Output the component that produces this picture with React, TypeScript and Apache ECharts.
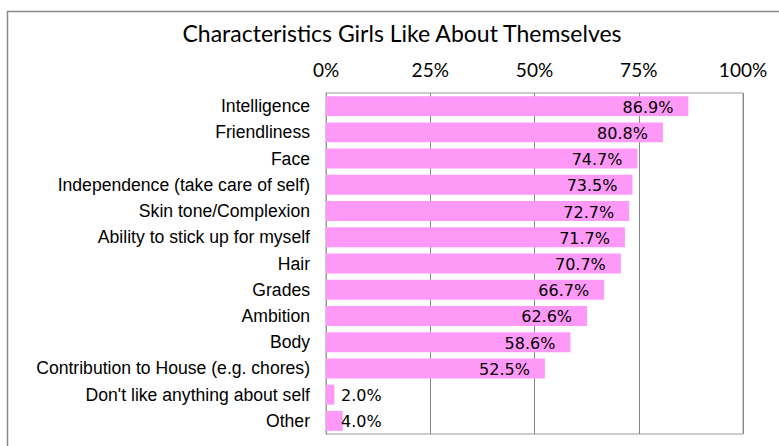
import React, { useEffect, useRef } from "react";
import * as echarts from "echarts";

const categories = [
  "Intelligence",
  "Friendliness",
  "Face",
  "Independence (take care of self)",
  "Skin tone/Complexion",
  "Ability to stick up for myself",
  "Hair",
  "Grades",
  "Ambition",
  "Body",
  "Contribution to House (e.g. chores)",
  "Don't like anything about self",
  "Other",
];
const values = [86.9, 80.8, 74.7, 73.5, 72.7, 71.7, 70.7, 66.7, 62.6, 58.6, 52.5, 2.0, 4.0];
const xTicks = [0, 25, 50, 75, 100];

export default function App() {
  const ref = useRef<HTMLDivElement>(null);
  useEffect(() => {
    if (!ref.current) return;
    const chart = echarts.init(ref.current, null, { renderer: "svg" });
    chart.setOption({
      animation: false,
      backgroundColor: "#fff",
      title: {
        text: "Characteristics Girls Like About Themselves",
        left: 397,
        textAlign: "center",
        top: 16,
        textStyle: { fontFamily: "Lato, sans-serif", fontSize: 23, fontWeight: "normal", color: "#000" },
      },
      graphic: [
        {
          type: "polyline",
          shape: { points: [[7.5, 446], [7.5, 11.5], [790, 11.5]] },
          style: { stroke: "#8a8a8a", lineWidth: 1.5, fill: null },
        },
      ],
      grid: {
        left: 326,
        right: 36,
        top: 93,
        bottom: 12,
        show: true,
        borderColor: "#999",
        borderWidth: 1,
      },
      xAxis: {
        type: "value",
        position: "top",
        min: xTicks[0],
        max: xTicks[xTicks.length - 1],
        interval: 25,
        axisLine: { show: false },
        axisTick: { show: false },
        axisLabel: {
          formatter: "{value}%",
          margin: 14,
          fontFamily: "Lato, sans-serif",
          fontSize: 19,
          color: "#000",
        },
        splitLine: { show: true, lineStyle: { color: "#888", width: 1 } },
      },
      yAxis: {
        type: "category",
        inverse: true,
        data: categories,
        axisLine: { show: true, lineStyle: { color: "#999" } },
        axisTick: { show: false },
        axisLabel: {
          margin: 16,
          fontFamily: "'Liberation Sans', Arial, sans-serif",
          fontSize: 17.6,
          color: "#000",
        },
      },
      series: [
        {
          type: "bar",
          data: values.map((v) => ({
            value: v,
            label: v < 10 ? { position: "insideLeft", offset: [10, 1] } : { position: "insideRight", offset: [-10, 1] },
          })),
          barCategoryGap: "24%",
          itemStyle: { color: "#ff99f7" },
          label: {
            show: true,
            formatter: (p: any) => p.value.toFixed(1) + "%",
            fontFamily: "'DejaVu Sans', sans-serif",
            fontSize: 16,
            color: "#000",
          },
        },
      ],
    });
    return () => chart.dispose();
  }, []);
  return <div ref={ref} style={{ position: "fixed", left: 0, top: 0, width: 779, height: 446 }} />;
}
